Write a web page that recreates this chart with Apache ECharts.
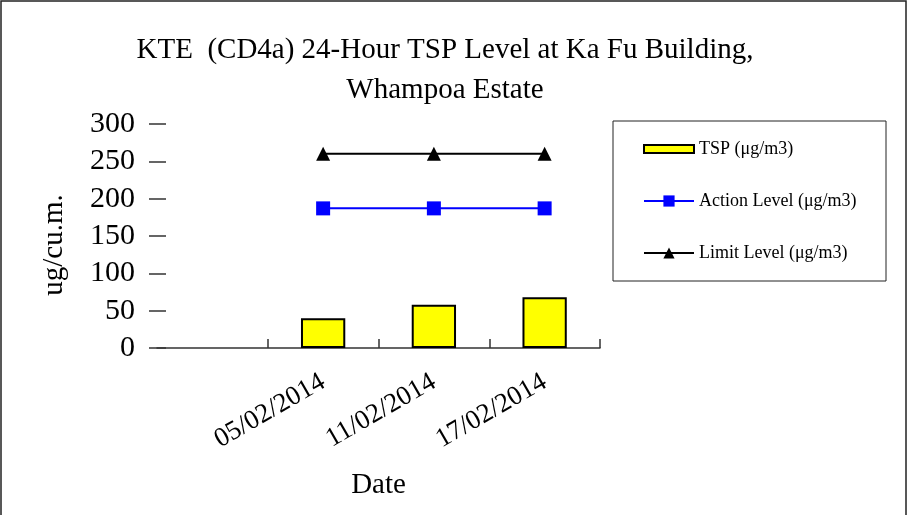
<!DOCTYPE html>
<html>
<head>
<meta charset="utf-8">
<script src="https://cdn.jsdelivr.net/npm/echarts@6/dist/echarts.min.js"></script>
<style>
html,body{margin:0;padding:0;background:#fff;}
#chart{width:908px;height:515px;}
</style>
</head>
<body>
<div id="chart"></div>
<script>
const categories = ['', '05/02/2014', '11/02/2014', '17/02/2014'];
const tspValues = [null, 40, 58, 68];
const actionLevel = [null, 187, 187, 187];
const limitLevel = [null, 260, 260, 260];
const yMin = 0, yMax = 300, yStep = 50;
const titleLines = ['KTE  (CD4a) 24-Hour TSP Level at Ka Fu Building,', 'Whampoa Estate'];
const seriesNames = ['TSP (\u03bcg/m3)', 'Action Level (\u03bcg/m3)', 'Limit Level (\u03bcg/m3)'];

const FONT = '"Liberation Serif", "Times New Roman", serif';
const chart = echarts.init(document.getElementById('chart'), null, {renderer: 'canvas'});
chart.setOption({
  backgroundColor: '#fff',
  animation: false,
  title: {
    text: titleLines.join('\n'),
    left: 440, top: 25, textAlign: 'center',
    textStyle: {fontFamily: FONT, fontSize: 29, fontWeight: 'normal', color: '#000', lineHeight: 40}
  },
  graphic: [
    {type: 'rect', shape: {x: 1, y: 1, width: 905, height: 530}, style: {fill: 'none', stroke: '#222', lineWidth: 1.5}, silent: true},
    {type: 'rect', shape: {x: 613, y: 121, width: 273, height: 160}, style: {fill: 'none', stroke: '#222', lineWidth: 1}, silent: true}
  ],
  legend: {
    orient: 'vertical',
    left: 643, top: 140,
    itemWidth: 50, itemHeight: 14,
    itemGap: 34,
    padding: 0,
    textStyle: {fontFamily: FONT, fontSize: 18, color: '#000'},
    data: [
      {name: seriesNames[0], icon: 'path://M0,0 L50,0 L50,8 L0,8 Z'},
      {name: seriesNames[1]},
      {name: seriesNames[2]}
    ]
  },
  grid: {left: 157, right: 308, top: 124, bottom: 167, containLabel: false},
  xAxis: {
    type: 'category',
    data: categories,
    name: 'Date',
    nameLocation: 'middle',
    nameGap: 123,
    nameTextStyle: {fontFamily: FONT, fontSize: 29, color: '#000'},
    axisLine: {show: true, lineStyle: {color: '#333', width: 1.5}},
    axisTick: {show: true, inside: true, length: 9, lineStyle: {color: '#333', width: 1.5}, interval: function (i) { return i > 0; }},
    axisLabel: {rotate: 30, fontFamily: FONT, fontSize: 27, color: '#000', margin: 32, interval: 0},
    splitLine: {show: false}
  },
  yAxis: [
    {
      type: 'value', min: yMin, max: yMax, interval: yStep,
      name: 'ug/cu.m.', nameLocation: 'middle', nameGap: 88, nameRotate: 90,
      nameTextStyle: {fontFamily: FONT, fontSize: 29, color: '#000', padding: [0, 18, 0, 0]},
      axisLine: {show: false},
      axisTick: {show: true, inside: false, length: 8, lineStyle: {color: '#333', width: 1.5}},
      axisLabel: {fontFamily: FONT, fontSize: 30, color: '#000', margin: 22},
      splitLine: {show: false}
    },
    {
      type: 'value', min: yMin, max: yMax, interval: yStep, position: 'left',
      axisLine: {show: false},
      axisTick: {show: true, inside: true, length: 9, lineStyle: {color: '#333', width: 1.5}},
      axisLabel: {show: false},
      splitLine: {show: false}
    }
  ],
  series: [
    {
      name: seriesNames[0], type: 'bar', data: tspValues, barWidth: '40%',
      itemStyle: {color: '#FFFF00', borderColor: '#000', borderWidth: 2}
    },
    {
      name: seriesNames[1], type: 'line', data: actionLevel,
      symbol: 'rect', symbolSize: 14,
      lineStyle: {color: '#0000FF', width: 2},
      itemStyle: {color: '#0000FF'}
    },
    {
      name: seriesNames[2], type: 'line', data: limitLevel,
      symbol: 'triangle', symbolSize: 14,
      lineStyle: {color: '#000', width: 2},
      itemStyle: {color: '#000'}
    }
  ]
});
</script>
</body>
</html>
